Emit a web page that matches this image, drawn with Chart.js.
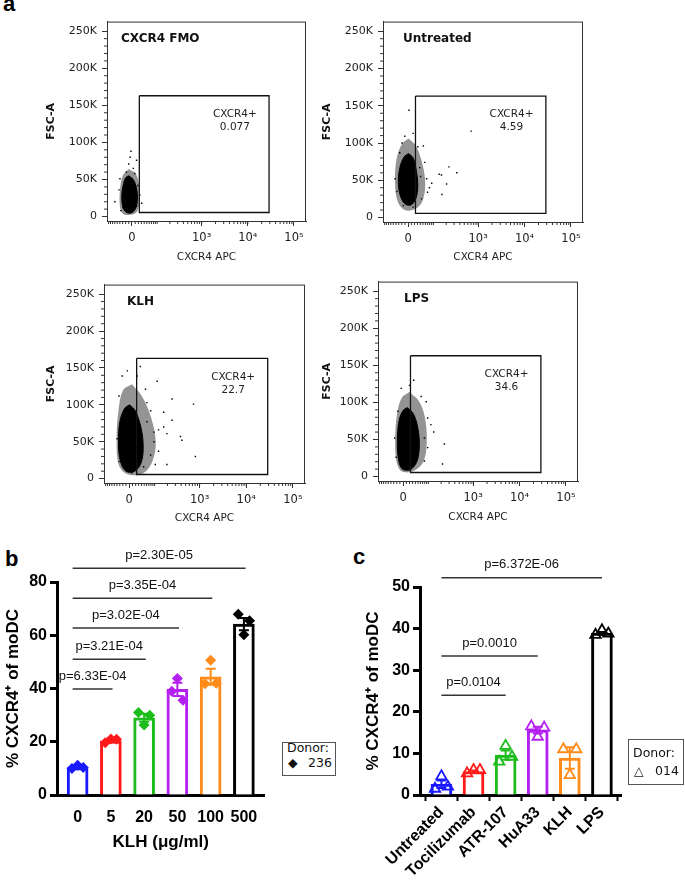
<!DOCTYPE html>
<html>
<head>
<meta charset="utf-8">
<title>CXCR4 expression on moDC</title>
<script src="https://cdn.jsdelivr.net/npm/chart.js@4.4.1/dist/chart.umd.min.js"></script>
<style>
  html, body { margin: 0; padding: 0; background: #fff; }
  body { position: relative; width: 685px; height: 881px; overflow: hidden; }
  .wrap { position: absolute; }
  .letter { position: absolute; font: bold 22px/22px "Liberation Sans", Arial, sans-serif; color: #000; }
  .legend { position: absolute; border: 1px solid #555; box-sizing: border-box; }
  .ltext { position: absolute; font: 12.5px/14px "DejaVu Sans", sans-serif; color: #111; white-space: nowrap; }
</style>
</head>
<body>
<div class="letter" style="left:3px;top:-7px">a</div>
<div class="letter" style="left:5px;top:548px">b</div>
<div class="letter" style="left:353px;top:546px">c</div>

<div class="wrap" style="left:45px;top:10px;width:265px;height:254px"><canvas id="flowFmo"></canvas></div>
<div class="wrap" style="left:321px;top:10px;width:266px;height:254px"><canvas id="flowUntreated"></canvas></div>
<div class="wrap" style="left:45px;top:273px;width:264px;height:252px"><canvas id="flowKlh"></canvas></div>
<div class="wrap" style="left:321px;top:270px;width:261px;height:254px"><canvas id="flowLps"></canvas></div>

<div class="wrap" style="left:3px;top:540px;width:267px;height:313px"><canvas id="klhDose"></canvas></div>
<div class="wrap" style="left:363px;top:548px;width:266px;height:333px"><canvas id="treatments"></canvas></div>

<div class="legend" style="left:282px;top:742px;width:54px;height:34px"></div>
<div class="ltext" style="left:287px;top:741px">Donor:</div>
<div class="ltext" style="left:288px;top:756px">◆</div>
<div class="ltext" style="left:308px;top:756px">236</div>

<div class="legend" style="left:628px;top:739px;width:56px;height:46px"></div>
<div class="ltext" style="left:633px;top:746px">Donor:</div>
<div class="ltext" style="left:634px;top:764px">△</div>
<div class="ltext" style="left:655px;top:764px">014</div>

<script>
// ---- panel a: flow plots (x in logicle display units, y = FSC-A in thousands) ----
const FLOW_TITLES = ["CXCR4 FMO", "Untreated", "KLH", "LPS"]
const FLOW_GATE_PCT = ["0.077", "4.59", "22.7", "34.6"]
const FLOW_X_LABELS = ["0", "10³", "10⁴", "10⁵"]
const FLOW_X_RAW = [0, 1e3, 1e4, 1e5]
const FLOW_Y_TICKS = [0, 50, 100, 150, 200, 250]
const GATE_X = [1.65, 4.46, 4.46, 1.65, 1.65]
const GATE_Y = [163, 163, 5.5, 5.5, 163]

const FMO_CORE_X = [1.42, 1.52, 1.59, 1.61, 1.57, 1.48, 1.36, 1.29, 1.27, 1.30, 1.35, 1.42]
const FMO_CORE_Y = [55, 50, 38, 24, 11, 5, 6, 14, 28, 42, 52, 55]
const FMO_HALO_X = [1.42, 1.58, 1.65, 1.65, 1.58, 1.42, 1.29, 1.23, 1.23, 1.29, 1.42]
const FMO_HALO_Y = [64, 57, 40, 18, 5, 2, 4, 14, 35, 55, 64]
const FMO_DOTS_X = [1.45, 1.42, 1.52, 1.59, 1.37, 1.23, 1.12, 1.62, 1.66, 1.30, 1.59, 1.21, 1.47, 1.55, 1.25, 1.70]
const FMO_DOTS_Y = [80, 71, 65, 76, 60, 51, 20, 42, 29, 12, 14, 36, 88, 58, 8, 18]

const UNT_CORE_X = [1.50, 1.60, 1.67, 1.70, 1.66, 1.56, 1.43, 1.33, 1.28, 1.31, 1.40, 1.50]
const UNT_CORE_Y = [86, 80, 62, 42, 26, 17, 18, 28, 45, 66, 81, 86]
const UNT_HALO_X = [1.50, 1.66, 1.80, 1.86, 1.80, 1.63, 1.42, 1.27, 1.21, 1.24, 1.36, 1.50]
const UNT_HALO_Y = [106, 96, 72, 45, 22, 11, 10, 21, 45, 78, 99, 106]
const UNT_DOTS_X = [2.85, 2.37, 2.16, 2.21, 2.54, 2.32, 2.22, 2.00, 1.91, 1.85, 1.82, 1.74, 1.78, 1.51, 1.21, 1.31, 1.42, 1.60, 1.39, 1.60, 1.89, 1.95, 1.76, 1.70, 1.25, 1.36]
const UNT_DOTS_Y = [116, 68, 58, 57, 60, 45, 31, 46, 34, 74, 96, 67, 25, 144, 52, 87, 109, 113, 16, 14, 52, 40, 55, 95, 35, 100]

const KLH_CORE_X = [1.50, 1.62, 1.74, 1.79, 1.75, 1.61, 1.42, 1.30, 1.26, 1.29, 1.39, 1.50]
const KLH_CORE_Y = [100, 92, 70, 45, 22, 10, 10, 24, 50, 77, 95, 100]
const KLH_HALO_X = [1.55, 1.76, 1.95, 2.06, 1.98, 1.78, 1.45, 1.27, 1.22, 1.26, 1.36, 1.55]
const KLH_HALO_Y = [128, 112, 85, 50, 22, 7, 6, 18, 50, 92, 120, 128]
const KLH_DOTS_X = [1.73, 1.45, 2.09, 2.87, 2.41, 2.23, 2.41, 2.23, 2.12, 2.30, 2.59, 2.62, 2.02, 1.95, 2.12, 2.91, 2.05, 2.30, 1.87, 1.84, 1.66, 1.34, 1.27, 1.23, 1.27, 1.55, 1.80, 1.87, 1.95, 2.02]
const KLH_DOTS_Y = [152, 146, 132, 101, 108, 90, 79, 70, 66, 61, 57, 52, 50, 32, 37, 30, 19, 19, 77, 121, 139, 139, 112, 54, 23, 8, 16, 103, 92, 63]

const LPS_CORE_X = [1.58, 1.71, 1.81, 1.84, 1.78, 1.63, 1.46, 1.38, 1.37, 1.41, 1.49, 1.58]
const LPS_CORE_Y = [93, 85, 65, 40, 19, 9, 11, 28, 55, 77, 89, 93]
const LPS_HALO_X = [1.62, 1.83, 1.96, 2.00, 1.92, 1.70, 1.46, 1.35, 1.32, 1.36, 1.46, 1.62]
const LPS_HALO_Y = [114, 102, 80, 45, 19, 7, 7, 20, 50, 84, 106, 114]
const LPS_DOTS_X = [1.63, 1.45, 1.88, 1.99, 2.02, 2.09, 1.95, 2.02, 2.38, 2.34, 1.34, 1.31, 1.38, 1.95, 2.15, 1.72]
const LPS_DOTS_Y = [123, 119, 108, 101, 79, 70, 52, 39, 44, 17, 26, 52, 88, 21, 60, 130]

// ---- panel b: KLH dose response ----
const KLH_DOSES = ["0", "5", "20", "50", "100", "500"]
const KLH_MEAN = [10.3, 20.3, 29.0, 39.7, 44.4, 64.2]
const KLH_SEM = [0.35, 0.45, 1.5, 2.5, 3.0, 2.3]
const KLH_REP_L = [10.0, 19.6, 31.0, 39.0, 41.8, 67.9]
const KLH_REP_C = [11.2, 21.0, 26.3, 43.8, 50.6, 60.2]
const KLH_REP_R = [10.3, 20.9, 30.0, 35.6, 42.0, 65.4]
const KLH_P_TO = [1, 2, 3, 4, 5]
const KLH_P = ["p=6.33E-04", "p=3.21E-04", "p=3.02E-04", "p=3.35E-04", "p=2.30E-05"]

// ---- panel c: treatments ----
const TREATMENTS = ["Untreated", "Tocilizumab", "ATR-107", "HuA33", "KLH", "LPS"]
const TRT_MEAN = [2.6, 5.6, 9.6, 15.6, 8.9, 38.9]
const TRT_SEM = [0.9, 0.3, 1.1, 0.8, 2.6, 0.3]
const TRT_REP_L = [1.5, 5.2, 8.0, 16.5, 11.0, 38.5]
const TRT_REP_C = [4.5, 6.0, 11.8, 14.0, 4.8, 39.6]
const TRT_REP_R = [2.0, 6.0, 9.2, 16.2, 11.0, 38.8]
const TRT_P_TO = [2, 3, 5]
const TRT_P = ["p=0.0104", "p=0.0010", "p=6.372E-06"]

const GROUP_COLORS = ["#1a1aff", "#ff1a1a", "#1cbc1c", "#b420f0", "#ff8c1a", "#000000"]

const zip = (xs, ys) => xs.map((x, i) => ({ x, y: ys[i] }))
// biexponential display transform of the cytometer axis
const logicle = (v) => Math.log10(31) + Math.asinh(v / 62) / Math.LN10
const dejavu = (size, weight) => ({ family: '"DejaVu Sans", sans-serif', size, weight: weight || "normal" })
const arialBold = (size) => ({ family: '"Liberation Sans", Arial, sans-serif', size, weight: "bold" })

const X_MINOR = []
for (let k = 1; k <= 9; k++) X_MINOR.push(-10 * k, 10 * k, 100 * k, 1000 * k, 10000 * k)

// frame, minor ticks, title and gate label of a flow plot
const flowFrame = {
  id: "flowFrame",
  afterDraw(chart, args, opts) {
    const { ctx, chartArea: a, scales: { x, y } } = chart
    ctx.save()
    ctx.strokeStyle = "#333"
    ctx.lineWidth = 1
    ctx.strokeRect(a.left + 0.5, a.top + 0.5, a.right - a.left - 1, a.bottom - a.top)
    ctx.beginPath()
    X_MINOR.forEach((v) => {
      const px = x.getPixelForValue(logicle(v))
      if (px > a.left && px < a.right) {
        ctx.moveTo(px, a.bottom)
        ctx.lineTo(px, a.bottom + 3)
      }
    })
    for (let k = 10; k < 260; k += 10) {
      if (k % 50 === 0) continue
      const py = y.getPixelForValue(k)
      ctx.moveTo(a.left, py)
      ctx.lineTo(a.left - 3, py)
    }
    ctx.stroke()

    ctx.fillStyle = "#111"
    ctx.font = 'bold 12px "DejaVu Sans", sans-serif'
    ctx.textBaseline = "middle"
    ctx.textAlign = "left"
    ctx.fillText(opts.title, a.left + opts.titleDx, a.top + 17)

    ctx.font = '10.5px "DejaVu Sans", sans-serif'
    ctx.fillStyle = "#222"
    ctx.textAlign = "center"
    const gx = x.getPixelForValue(3.72)
    const gy = y.getPixelForValue(138)
    ctx.fillText("CXCR4+", gx, gy)
    ctx.fillText(opts.pct, gx, gy + 13)
    ctx.restore()
  },
}

function flowPanel(id, p) {
  new Chart(document.getElementById(id), {
    type: "scatter",
    data: {
      datasets: [
        { type: "line", data: zip(GATE_X, GATE_Y), borderColor: "#111", borderWidth: 1.3, pointRadius: 0, fill: false, order: 1 },
        { data: zip(p.dotsX, p.dotsY), pointStyle: "rect", pointRadius: 1, backgroundColor: "#000", borderWidth: 0, order: 2 },
        { type: "line", data: zip(p.coreX, p.coreY), fill: "shape", backgroundColor: "#000", borderColor: "#000", borderWidth: 1, pointRadius: 0, tension: 0.35, order: 3 },
        { type: "line", data: zip(p.haloX, p.haloY), fill: "shape", backgroundColor: "rgba(0,0,0,0.42)", borderColor: "rgba(0,0,0,0)", borderWidth: 0, pointRadius: 0, tension: 0.35, order: 4 },
      ],
    },
    options: {
      responsive: true,
      maintainAspectRatio: false,
      animation: false,
      events: [],
      layout: { padding: { top: 9, right: 3, left: 0, bottom: 0 } },
      scales: {
        x: {
          type: "linear",
          min: 0.95,
          max: 5.26,
          afterBuildTicks: (s) => { s.ticks = FLOW_X_RAW.map((v) => ({ value: logicle(v) })) },
          afterFit: (s) => { s.height = p.xAxisH },
          ticks: { callback: (v, i) => FLOW_X_LABELS[i], font: dejavu(11.5), color: "#222", padding: 5, maxRotation: 0, autoSkip: false },
          grid: { drawOnChartArea: false, tickLength: 5, color: "#333", tickColor: "#333" },
          border: { color: "#333", width: 1 },
          title: { display: true, text: "CXCR4 APC", font: dejavu(10.5), color: "#222", padding: 0 },
        },
        y: {
          min: -6,
          max: 263,
          afterBuildTicks: (s) => { s.ticks = FLOW_Y_TICKS.map((v) => ({ value: v })) },
          afterFit: (s) => { s.width = p.yAxisW },
          ticks: { callback: (v) => (v === 0 ? "0" : v + "K"), font: dejavu(11), color: "#222", padding: 5 },
          grid: { drawOnChartArea: false, tickLength: 5, color: "#333", tickColor: "#333" },
          border: { color: "#333", width: 1 },
          title: { display: true, text: "FSC-A", font: dejavu(11, "bold"), color: "#111", padding: 0 },
        },
      },
      plugins: {
        legend: { display: false },
        tooltip: { enabled: false },
        flowFrame: { title: p.title, pct: p.pct, titleDx: p.titleDx },
      },
    },
    plugins: [flowFrame],
  })
}

flowPanel("flowFmo", { title: FLOW_TITLES[0], pct: FLOW_GATE_PCT[0], titleDx: 14, yAxisW: 62, xAxisH: 43,
  coreX: FMO_CORE_X, coreY: FMO_CORE_Y, haloX: FMO_HALO_X, haloY: FMO_HALO_Y, dotsX: FMO_DOTS_X, dotsY: FMO_DOTS_Y })
flowPanel("flowUntreated", { title: FLOW_TITLES[1], pct: FLOW_GATE_PCT[1], titleDx: 20, yAxisW: 62, xAxisH: 42,
  coreX: UNT_CORE_X, coreY: UNT_CORE_Y, haloX: UNT_HALO_X, haloY: UNT_HALO_Y, dotsX: UNT_DOTS_X, dotsY: UNT_DOTS_Y })
flowPanel("flowKlh", { title: FLOW_TITLES[2], pct: FLOW_GATE_PCT[2], titleDx: 23, yAxisW: 59, xAxisH: 42,
  coreX: KLH_CORE_X, coreY: KLH_CORE_Y, haloX: KLH_HALO_X, haloY: KLH_HALO_Y, dotsX: KLH_DOTS_X, dotsY: KLH_DOTS_Y })
flowPanel("flowLps", { title: FLOW_TITLES[3], pct: FLOW_GATE_PCT[3], titleDx: 26, yAxisW: 57, xAxisH: 43,
  coreX: LPS_CORE_X, coreY: LPS_CORE_Y, haloX: LPS_HALO_X, haloY: LPS_HALO_Y, dotsX: LPS_DOTS_X, dotsY: LPS_DOTS_Y })

// error bars (SEM) and p-value lines
const barExtras = {
  id: "barExtras",
  afterDatasetsDraw(chart, args, o) {
    const { ctx, scales: { x, y } } = chart
    ctx.save()
    ctx.lineWidth = 2
    o.mean.forEach((m, i) => {
      const px = x.getPixelForValue(i)
      const top = y.getPixelForValue(m + o.sem[i])
      const bot = y.getPixelForValue(m - o.sem[i])
      ctx.strokeStyle = GROUP_COLORS[i]
      ctx.beginPath()
      ctx.moveTo(px, top); ctx.lineTo(px, bot)
      ctx.moveTo(px - 5, top); ctx.lineTo(px + 5, top)
      ctx.moveTo(px - 5, bot); ctx.lineTo(px + 5, bot)
      ctx.stroke()
    })
    ctx.strokeStyle = "#333"
    ctx.lineWidth = 1.5
    ctx.fillStyle = "#111"
    ctx.font = '13px "Liberation Sans", Arial, sans-serif'
    ctx.textAlign = "center"
    ctx.textBaseline = "middle"
    o.to.forEach((to, i) => {
      const x0 = x.getPixelForValue(o.from)
      const x1 = x.getPixelForValue(to + o.endPad)
      const yy = y.getPixelForValue(o.levels[i])
      ctx.beginPath()
      ctx.moveTo(x0, yy); ctx.lineTo(x1, yy)
      ctx.stroke()
      ctx.fillText(o.labels[i], (x0 + x1) / 2, yy - 13)
    })
    ctx.restore()
  },
}

function barPanel(id, c) {
  const reps = [c.repL, c.repC, c.repR]
  const datasets = [{
    type: "bar",
    data: c.mean.map((v, i) => ({ x: i, y: v })),
    backgroundColor: "#fff",
    borderColor: GROUP_COLORS,
    borderWidth: 3,
    barThickness: 21,
    order: 2,
  }]
  reps.forEach((rep, j) => datasets.push({
    type: "scatter",
    data: rep.map((v, i) => ({ x: i + c.jitter[j], y: v })),
    pointStyle: c.marker,
    pointRadius: c.markerSize,
    backgroundColor: c.filled ? GROUP_COLORS : "rgba(0,0,0,0)",
    borderColor: GROUP_COLORS,
    borderWidth: c.filled ? 0 : 1.8,
    order: 1,
  }))

  new Chart(document.getElementById(id), {
    type: "scatter",
    data: { datasets },
    options: {
      responsive: true,
      maintainAspectRatio: false,
      animation: false,
      events: [],
      layout: { padding: { top: c.padTop, right: 2, left: 0, bottom: 0 } },
      scales: {
        x: {
          type: "linear",
          min: c.xMin,
          max: c.xMax,
          offset: false,
          afterBuildTicks: (s) => { s.ticks = c.cats.map((_, i) => ({ value: i })) },
          afterFit: (s) => { s.height = c.xAxisH },
          ticks: { callback: (v, i) => c.cats[i], font: arialBold(16), color: "#000", padding: c.xTickPad, autoSkip: false, minRotation: c.rot, maxRotation: c.rot },
          grid: { display: c.xTicks, drawOnChartArea: false, tickLength: 6, tickWidth: 2, tickColor: "#000" },
          border: { color: "#000", width: 3 },
          title: { display: !!c.xTitle, text: c.xTitle, font: arialBold(17), color: "#000", padding: 0 },
        },
        y: {
          min: 0,
          max: c.yMax,
          afterFit: (s) => { s.width = c.yAxisW },
          ticks: { stepSize: c.yStep, font: arialBold(16), color: "#000", padding: 3 },
          grid: { drawOnChartArea: false, tickLength: 7, tickWidth: 3, tickColor: "#000" },
          border: { color: "#000", width: 3 },
          title: { display: true, text: "% CXCR4⁺ of moDC", font: arialBold(17), color: "#000", padding: 0 },
        },
      },
      plugins: {
        legend: { display: false },
        tooltip: { enabled: false },
        barExtras: { mean: c.mean, sem: c.sem, to: c.pTo, labels: c.pLabels, levels: c.levels, from: c.from, endPad: c.endPad },
      },
    },
    plugins: [barExtras],
  })
}

barPanel("klhDose", {
  cats: KLH_DOSES, mean: KLH_MEAN, sem: KLH_SEM, repL: KLH_REP_L, repC: KLH_REP_C, repR: KLH_REP_R,
  pTo: KLH_P_TO, pLabels: KLH_P, levels: [39.8, 51, 62.7, 73.9, 85.2], from: -0.15, endPad: 0.05,
  jitter: [-0.17, 0, 0.17], marker: "rectRot", markerSize: 5.5, filled: true,
  xMin: -0.62, xMax: 5.62, yMax: 80, yStep: 20, yAxisW: 54, xAxisH: 58, padTop: 42,
  xTickPad: 7, rot: 0, xTicks: false, xTitle: "KLH (μg/ml)",
})

barPanel("treatments", {
  cats: TREATMENTS, mean: TRT_MEAN, sem: TRT_SEM, repL: TRT_REP_L, repC: TRT_REP_C, repR: TRT_REP_R,
  pTo: TRT_P_TO, pLabels: TRT_P, levels: [24.0, 33.4, 52.2], from: 0, endPad: 0,
  jitter: [-0.2, 0, 0.2], marker: "triangle", markerSize: 6, filled: false,
  xMin: -0.667, xMax: 5.6, yMax: 50, yStep: 10, yAxisW: 57, xAxisH: 86, padTop: 39,
  xTickPad: 2, rot: 45, xTicks: true, xTitle: "",
})
</script>
</body>
</html>
